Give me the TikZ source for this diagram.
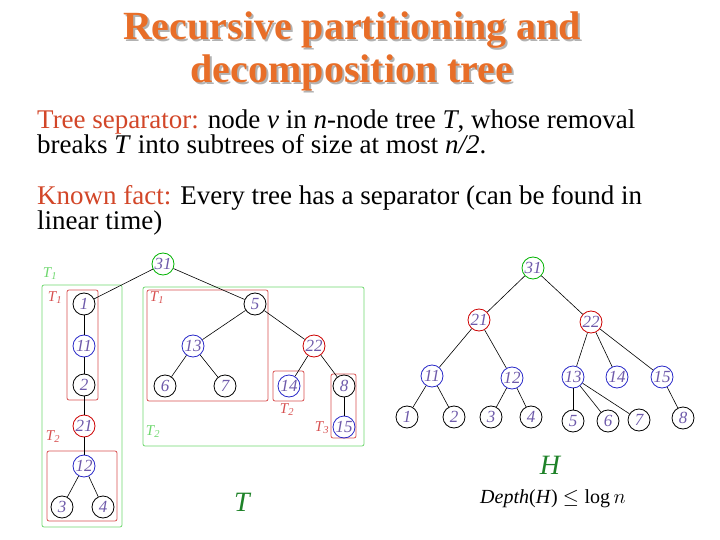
\documentclass[tikz,border=0pt]{standalone}
\usepackage{fontspec}
\setmainfont{Liberation Serif}
\usepackage{amssymb}
\definecolor{ttl}{RGB}{232,110,40}
\definecolor{hl}{RGB}{210,70,40}
\definecolor{lbl}{RGB}{110,90,170}
\definecolor{gbox}{RGB}{110,215,110}
\definecolor{rbox}{RGB}{215,80,80}
\definecolor{bl}{RGB}{40,40,200}
\definecolor{dg}{RGB}{30,130,40}
\begin{document}
\begin{tikzpicture}[x=1pt,y=-1pt,
        tn/.style={draw, circle, thick, minimum size=22pt, inner sep=0pt, font=\fontsize{17}{17}\selectfont\itshape, text=lbl},
        gn/.style={tn, draw=green!70!black},
        rn/.style={tn, draw=red!80!black},
        bn/.style={tn, draw=bl},
        gbx/.style={draw=gbox, thick, rounded corners=2pt},
        rbx/.style={draw=rbox, thick, rounded corners=2pt},
        gl/.style={text=gbox, font=\fontsize{15}{15}\selectfont\itshape},
        rl/.style={text=rbox, font=\fontsize{15}{15}\selectfont\itshape}
    ]
        \useasboundingbox (0,0) rectangle (720,540);
        % Title and text
        \node[align=center, font=\fontsize{40}{43}\selectfont\bfseries, text=black!30] at (354,53) {Recursive partitioning and\\decomposition tree};
        \node[align=center, font=\fontsize{40}{43}\selectfont\bfseries, text=ttl] (title) at (352,51) {Recursive partitioning and\\decomposition tree};
        \node[anchor=north west, align=left, font=\fontsize{27}{25}\selectfont, inner sep=0pt] (sep) at (37,110)
            {\textcolor{hl}{Tree separator:} node \textit{v} in \textit{n}-node tree \textit{T}, whose removal\\breaks \textit{T} into subtrees of size at most \textit{n/2}.};
        \node[anchor=north west, align=left, font=\fontsize{27}{25}\selectfont, inner sep=0pt] (fact) at (37,185)
            {\textcolor{hl}{Known fact:} Every tree has a separator (can be found in\\linear time)};

        % Boxes of T
        \draw[gbx] (42,285) rectangle (122,527);
        \draw[rbx] (67,290) rectangle (98,400);
        \draw[rbx] (47,451) rectangle (117,521);
        \draw[gbx] (143,287) rectangle (364,446);
        \draw[rbx] (147,290) rectangle (268,401);
        \draw[rbx] (273,371) rectangle (304,401);
        \draw[rbx] (331,374) rectangle (356,438);
        \node[gl] at (50,274) {T\textsubscript{1}};
        \node[rl] at (55,298) {T\textsubscript{1}};
        \node[rl] at (53,437) {T\textsubscript{2}};
        \node[rl] at (157,298) {T\textsubscript{1}};
        \node[gl] at (153,432) {T\textsubscript{2}};
        \node[rl] at (287,410) {T\textsubscript{2}};
        \node[rl] at (322,428) {T\textsubscript{3}};

        % Tree T
        \node[gn] (a31) at (163,264) {31};
        \node[tn] (a1) at (84,304) {1};
        \node[bn] (a11) at (84,346) {11};
        \node[tn] (a2) at (84,385) {2};
        \node[rn] (a21) at (84,426) {21};
        \node[bn] (a12) at (84,466) {12};
        \node[tn] (a3) at (62,507) {3};
        \node[tn] (a4) at (103,507) {4};
        \node[tn] (a5) at (255,304) {5};
        \node[bn] (a13) at (193,346) {13};
        \node[tn] (a6) at (165,386) {6};
        \node[tn] (a7) at (225,386) {7};
        \node[rn] (a22) at (314,346) {22};
        \node[bn] (a14) at (289,386) {14};
        \node[tn] (a8) at (344,386) {8};
        \node[bn] (a15) at (344,427) {15};
        \foreach \u/\v in {a31/a1, a1/a11, a11/a2, a2/a21, a21/a12, a12/a3, a12/a4,
            a31/a5, a5/a13, a13/a6, a13/a7, a5/a22, a22/a14, a22/a8, a8/a15}
            \draw[semithick] (\u) -- (\v);
        \node[text=dg, font=\fontsize{28}{28}\selectfont\itshape] (tlab) at (242,502) {T};

        % Tree H
        \node[gn] (b31) at (533,268) {31};
        \node[rn] (b21) at (479,320) {21};
        \node[rn] (b22) at (591,322) {22};
        \node[bn] (b11) at (432,376) {11};
        \node[bn] (b12) at (512,378) {12};
        \node[bn] (b13) at (573,377) {13};
        \node[bn] (b14) at (617,377) {14};
        \node[bn] (b15) at (662,377) {15};
        \node[tn] (b1) at (407,417) {1};
        \node[tn] (b2) at (454,417) {2};
        \node[tn] (b3) at (491,417) {3};
        \node[tn] (b4) at (531,417) {4};
        \node[tn] (b5) at (573,421) {5};
        \node[tn] (b6) at (608,421) {6};
        \node[tn] (b7) at (639,420) {7};
        \node[tn] (b8) at (683,418) {8};
        \foreach \u/\v in {b31/b21, b31/b22, b21/b11, b21/b12, b22/b13, b22/b14, b22/b15,
            b11/b1, b11/b2, b12/b3, b12/b4, b13/b5, b13/b6, b13/b7, b15/b8}
            \draw[semithick] (\u) -- (\v);
        \node[text=dg, font=\fontsize{28}{28}\selectfont\itshape] (hlab) at (550,465) {H};
        \node[font=\fontsize{20}{20}\selectfont] (depth) at (553,499) {\textit{Depth}(\textit{H}) $\leq \log n$};
    \end{tikzpicture}
\end{document}
